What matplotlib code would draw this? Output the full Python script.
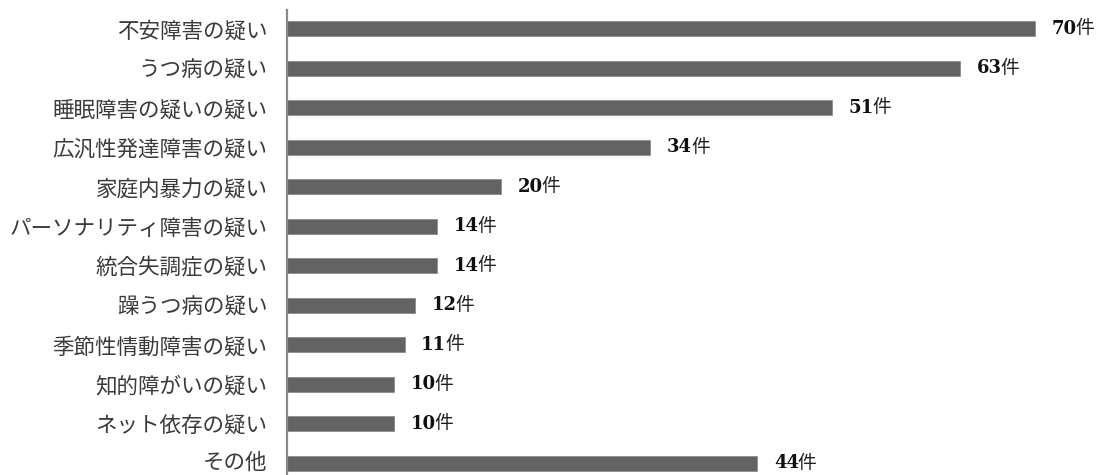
import matplotlib
matplotlib.use("Agg")
import matplotlib.pyplot as plt
from matplotlib.transforms import offset_copy

categories = ['不安障害の疑い', 'うつ病の疑い', '睡眠障害の疑いの疑い', '広汎性発達障害の疑い',
              '家庭内暴力の疑い', 'パーソナリティ障害の疑い', '統合失調症の疑い', '躁うつ病の疑い',
              '季節性情動障害の疑い', '知的障がいの疑い', 'ネット依存の疑い', 'その他']
counts = [70, 63, 51, 34, 20, 14, 14, 12, 11, 10, 10, 44]
unit = '件'

W, H = 1097, 475
fig = plt.figure(figsize=(W / 100, H / 100), dpi=100)
ax = fig.add_axes([287 / W, 0, 1 - 287 / W, 465 / H])

ypos = list(range(len(categories)))
ax.barh(ypos, counts, height=0.38, color='#636363', edgecolor='#8c8c8c', linewidth=0.6)

ax.set_xlim(0, 75.8)
ax.set_ylim(11.3, -0.48)
ax.set_yticks(ypos)
ax.set_yticklabels(categories, fontfamily='Noto Sans CJK JP', fontsize=15.5, color='#3a3a3a')
ax.tick_params(axis='y', length=0, pad=14)
ax.set_xticks([])

# keep the bottom label inside the figure
ax.get_yticklabels()[-1].set_transform(
    offset_copy(ax.get_yaxis_text1_transform(14)[0], fig=fig, x=0, y=3, units='dots'))

for side in ['top', 'right', 'bottom']:
    ax.spines[side].set_visible(False)
ax.spines['left'].set_color('#8a8a8a')
ax.spines['left'].set_linewidth(1.6)

# value labels: bold number followed by the unit
renderer = fig.canvas.get_renderer()
for y, v in zip(ypos, counts):
    num = ax.text(v, y, str(v), transform=offset_copy(ax.transData, fig=fig, x=12, y=0, units='points'),
                  ha='left', va='center', fontfamily='DejaVu Serif', fontweight='bold',
                  fontsize=13, color='#111111')
    bb = num.get_window_extent(renderer)
    x_px = bb.x1 - 1
    y_px = ax.transData.transform((0, y))[1]
    fig.text(x_px / W, y_px / H, unit, ha='left', va='center', fontfamily='Noto Sans CJK JP',
             fontsize=13.5, color='#222222')

fig.savefig('out.png', dpi=100)
